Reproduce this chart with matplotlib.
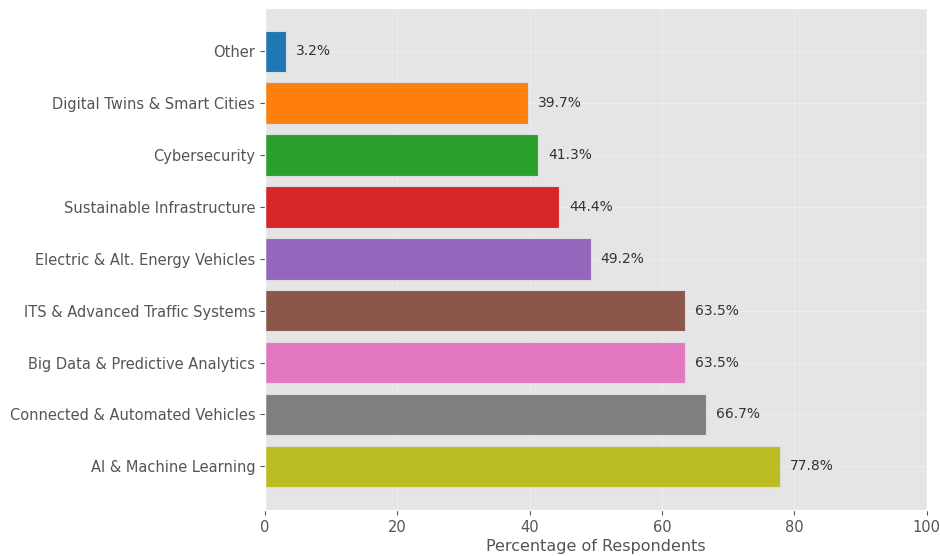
import matplotlib
matplotlib.use("Agg")
import matplotlib.pyplot as plt

plt.style.use("ggplot")

# Survey data (top to bottom as drawn)
categories = [
    "Other",
    "Digital Twins & Smart Cities",
    "Cybersecurity",
    "Sustainable Infrastructure",
    "Electric & Alt. Energy Vehicles",
    "ITS & Advanced Traffic Systems",
    "Big Data & Predictive Analytics",
    "Connected & Automated Vehicles",
    "AI & Machine Learning",
]
percentages = [3.2, 39.7, 41.3, 44.4, 49.2, 63.5, 63.5, 66.7, 77.8]
bar_colors = ["#1f77b4", "#ff7f0e", "#2ca02c", "#d62728", "#9467bd",
              "#8c564b", "#e377c2", "#7f7f7f", "#bcbd22"]

fig, ax = plt.subplots(figsize=(9.4, 5.56), dpi=100)

y_pos = range(len(categories))
ax.barh(y_pos, percentages, color=bar_colors, height=0.8,
        edgecolor="#dddddd", linewidth=0.8)
ax.set_yticks(list(y_pos))
ax.set_yticklabels(categories, fontsize=10.5)
ax.invert_yaxis()

for y, v in zip(y_pos, percentages):
    ax.text(v + 1.5, y, f"{v}%", va="center", ha="left", fontsize=10, color="#333333")

ax.set_xlim(0, 100)
ax.tick_params(axis="x", labelsize=10.5)
ax.set_xlabel("Percentage of Respondents", fontsize=11.5, labelpad=3)
ax.grid(True, alpha=0.3)
ax.set_axisbelow(True)

fig.subplots_adjust(left=0.282, right=0.986, top=0.986, bottom=0.083)
fig.savefig("out.png", dpi=100)
